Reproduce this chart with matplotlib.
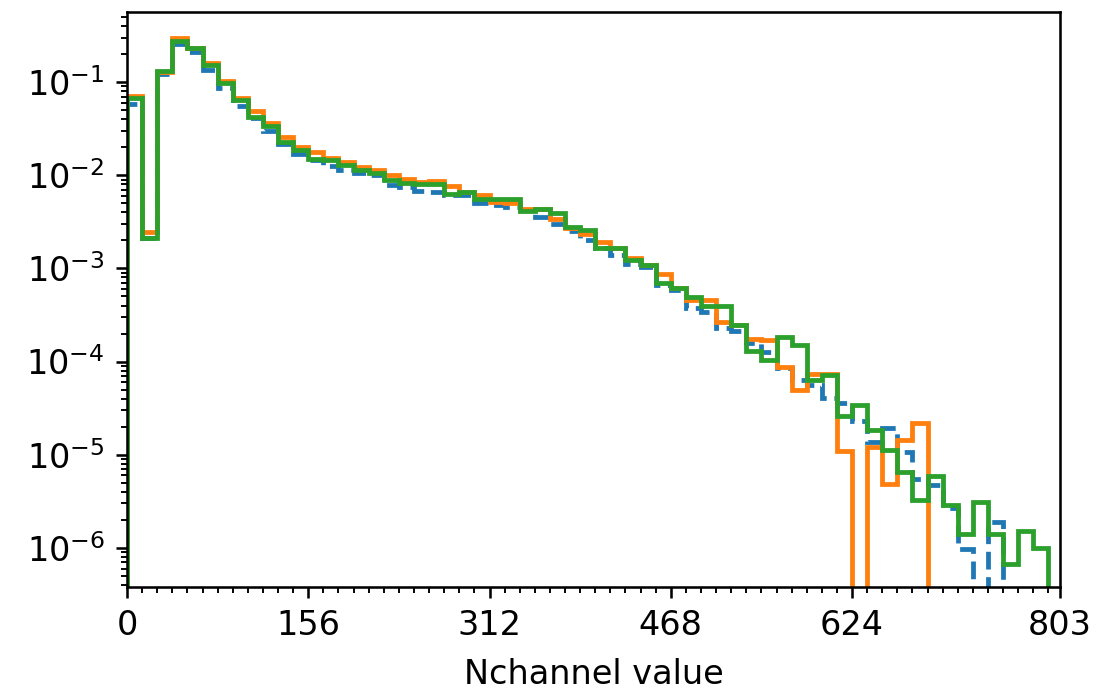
import numpy as np
import matplotlib
matplotlib.use("Agg")
import matplotlib.pyplot as plt
from matplotlib.ticker import FixedLocator

# Bin edges (Nchannel value)
bin_edges = list(range(0, 794, 13)) + [803]

# Normalised counts per bin (blue dashed, orange, green)
blue_vals = [0.059, 0.0021, 0.122, 0.26, 0.21, 0.135, 0.086, 0.055, 0.041, 0.030,
             0.0215, 0.0168, 0.0145, 0.0125, 0.0113, 0.0105, 0.0100, 0.0078, 0.0075, 0.0068,
             0.0066, 0.0062, 0.0062, 0.0050, 0.0048, 0.0046, 0.0042, 0.0036, 0.0030, 0.0025,
             0.0020, 0.00166, 0.00141, 0.00111, 0.00104, 0.00066, 0.00058, 0.00038, 0.00034, 0.00023,
             0.000214, 0.00016, 0.000127, 0.000085, 0.000063, 0.000056, 0.000041, 0.0000358, 0.0000232, 0.0000138,
             0.0000192, 0.0000107, 0.0000055, 0.0000047, 0.0000027, 0.00000098, 0.0, 0.0000019, 0.0, 0.0,
             0.0, 0.0]
orange_vals = [0.071, 0.00245, 0.130, 0.30, 0.235, 0.16, 0.103, 0.067, 0.049, 0.036,
               0.0258, 0.0202, 0.0178, 0.0155, 0.0138, 0.0122, 0.0115, 0.0102, 0.0092, 0.0084,
               0.0087, 0.0076, 0.0066, 0.0061, 0.0052, 0.0050, 0.0044, 0.0043, 0.0034, 0.0027,
               0.00232, 0.0019, 0.00166, 0.0013, 0.0011, 0.00088, 0.00062, 0.00046, 0.00046, 0.000265,
               0.000245, 0.000175, 0.00017, 0.000087, 0.000049, 0.000074, 0.000073, 0.000011, 0.0, 0.0000122,
               0.0000049, 0.0000145, 0.000022, 0.0, 0.0, 0.0, 0.0, 0.0, 0.0, 0.0,
               0.0, 0.0]
green_vals = [0.068, 0.0021, 0.132, 0.278, 0.23, 0.152, 0.098, 0.064, 0.042, 0.0336,
              0.0229, 0.0189, 0.0151, 0.0145, 0.0128, 0.0113, 0.0105, 0.0089, 0.0083, 0.0081,
              0.0081, 0.00635, 0.0066, 0.0055, 0.0055, 0.0055, 0.0041, 0.0043, 0.0039, 0.00278,
              0.0026, 0.00166, 0.00166, 0.00122, 0.0011, 0.00070, 0.00062, 0.00049, 0.00040, 0.00040,
              0.000245, 0.000129, 0.000103, 0.000184, 0.000150, 0.000064, 0.000071, 0.000026, 0.000034, 0.0000185,
              0.0000113, 0.0000066, 0.0000033, 0.0000059, 0.0000029, 0.0000014, 0.0000031, 0.0000014, 0.00000067, 0.0000015,
              0.00000099, 0.0]

major_ticks = [0, 156, 312, 468, 624, 803]
minor_ticks = list(range(0, 794, 13))

plt.rcParams['font.size'] = 10.5

DPI = 230
fig = plt.figure(figsize=(1110 / DPI, 695 / DPI), dpi=DPI)
ax = fig.add_axes([0.1144, 0.1554, 0.8406, 0.8269])

edges = np.array(bin_edges, dtype=float)
centers = (edges[:-1] + edges[1:]) / 2
ax.hist(centers, bins=edges, weights=blue_vals, histtype='step', color='C0',
        linestyle='--', linewidth=1.5, log=True)
ax.hist(centers, bins=edges, weights=orange_vals, histtype='step', color='C1',
        linewidth=1.5, log=True)
ax.hist(centers, bins=edges, weights=green_vals, histtype='step', color='C2',
        linewidth=1.5, log=True)

ax.set_yscale('log')
ax.set_xlim(0, 803)
ax.set_ylim(10 ** -6.42, 10 ** -0.25)
ax.set_xticks(major_ticks)
ax.xaxis.set_minor_locator(FixedLocator(minor_ticks))
ax.set_xlabel('Nchannel value', labelpad=5)

fig.savefig('out.png', dpi=DPI)
